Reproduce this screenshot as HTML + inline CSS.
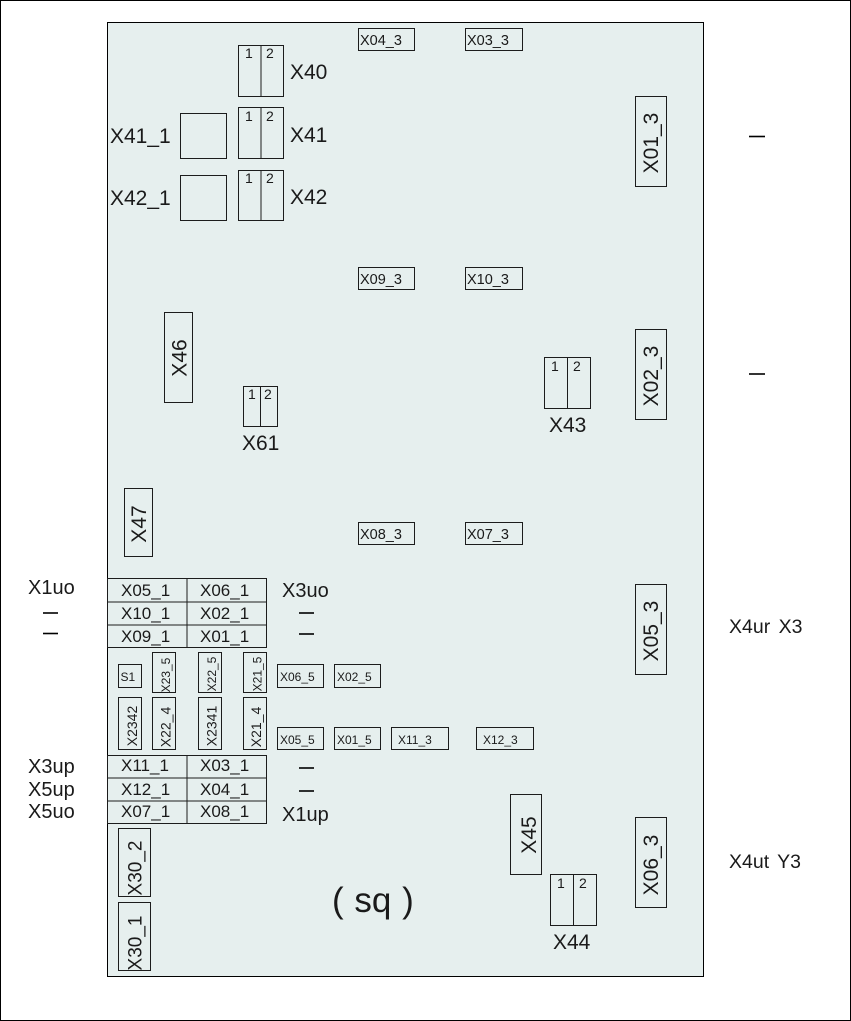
<!DOCTYPE html>
<html>
<head>
<meta charset="utf-8">
<style>
html,body{margin:0;padding:0;background:#fff}
svg{display:block}
text{font-family:"Liberation Sans",sans-serif;fill:#1a1a1a}
rect,line{stroke:#1c1c1c;stroke-width:1;fill:none}
.a{font-size:21px}
.e{font-size:20px}
.f{font-size:19px}
.b{font-size:17px}
.c{font-size:14.5px}
.d{font-size:12px}
.n{font-size:14px}
.m{text-anchor:middle}
.k{stroke:#000;stroke-width:1.6}
</style>
</head>
<body>
<svg width="851" height="1021" viewBox="0 0 851 1021" xmlns="http://www.w3.org/2000/svg">
<rect x="0.5" y="0.5" width="850" height="1020" style="stroke:#000"/>
<rect x="107.5" y="22.5" width="596" height="954" style="fill:#e6efee;stroke:#000"/>

<!-- top small connectors -->
<rect x="358.5" y="28.5" width="56" height="22"/><text class="c" x="360" y="45">X04_3</text>
<rect x="465.5" y="28.5" width="57" height="22"/><text class="c" x="467" y="45">X03_3</text>
<rect x="358.5" y="267.5" width="56" height="22"/><text class="c" x="360" y="284">X09_3</text>
<rect x="465.5" y="267.5" width="57" height="22"/><text class="c" x="467" y="284">X10_3</text>
<rect x="358.5" y="522.5" width="56" height="22"/><text class="c" x="360" y="539">X08_3</text>
<rect x="465.5" y="522.5" width="57" height="22"/><text class="c" x="467" y="539">X07_3</text>

<!-- X40-42 -->
<rect x="238.5" y="45.5" width="45" height="51"/><line x1="261" y1="45" x2="261" y2="96"/>
<text class="n" x="245" y="58">1</text><text class="n" x="266" y="58">2</text>
<text class="a" x="290" y="79">X40</text>
<rect x="238.5" y="107.5" width="45" height="51"/><line x1="261" y1="107" x2="261" y2="158"/>
<text class="n" x="245" y="121">1</text><text class="n" x="266" y="121">2</text>
<text class="a" x="290" y="142">X41</text>
<rect x="238.5" y="170.5" width="45" height="50"/><line x1="261" y1="170" x2="261" y2="220"/>
<text class="n" x="245" y="183">1</text><text class="n" x="266" y="183">2</text>
<text class="a" x="290" y="204">X42</text>
<rect x="180.5" y="113.5" width="46" height="45"/><text class="a" x="110" y="143">X41_1</text>
<rect x="180.5" y="175.5" width="46" height="45"/><text class="a" x="110" y="205">X42_1</text>

<!-- right tall connectors -->
<rect x="635.5" y="96.5" width="31" height="90"/><text class="a m" transform="translate(658,143) rotate(-90)">X01_3</text>
<rect x="635.5" y="329.5" width="31" height="90"/><text class="a m" transform="translate(658,376) rotate(-90)">X02_3</text>
<rect x="635.5" y="584.5" width="31" height="90"/><text class="a m" transform="translate(658,631) rotate(-90)">X05_3</text>
<rect x="635.5" y="817.5" width="31" height="90"/><text class="a m" transform="translate(658,865) rotate(-90)">X06_3</text>

<!-- X46 X47 X61 X43 -->
<rect x="164.5" y="312.5" width="28" height="90"/><text class="a m" transform="translate(186.5,358) rotate(-90)">X46</text>
<rect x="124.5" y="488.5" width="28" height="68"/><text class="a m" transform="translate(146,524) rotate(-90)">X47</text>
<rect x="243.5" y="386.5" width="34" height="40"/><line x1="260.5" y1="386" x2="260.5" y2="426"/>
<text class="n" x="248" y="399">1</text><text class="n" x="264" y="399">2</text>
<text class="a" x="242" y="450">X61</text>
<rect x="544.5" y="357.5" width="46" height="51"/><line x1="567.5" y1="357" x2="567.5" y2="408"/>
<text class="n" x="551" y="371">1</text><text class="n" x="573" y="371">2</text>
<text class="a" x="549" y="432">X43</text>

<!-- upper table -->
<rect x="107.5" y="578.5" width="159" height="69"/>
<line x1="107" y1="602" x2="267" y2="602"/><line x1="107" y1="625" x2="267" y2="625"/><line x1="187" y1="578" x2="187" y2="647"/>
<text class="b" x="121" y="596">X05_1</text><text class="b" x="200" y="596">X06_1</text>
<text class="b" x="121" y="619">X10_1</text><text class="b" x="200" y="619">X02_1</text>
<text class="b" x="121" y="642">X09_1</text><text class="b" x="200" y="642">X01_1</text>

<!-- lower table -->
<rect x="107.5" y="755.5" width="159" height="68"/>
<line x1="107" y1="778" x2="267" y2="778"/><line x1="107" y1="801" x2="267" y2="801"/><line x1="187" y1="755" x2="187" y2="823"/>
<text class="b" x="121" y="771">X11_1</text><text class="b" x="200" y="771">X03_1</text>
<text class="b" x="121" y="795">X12_1</text><text class="b" x="200" y="795">X04_1</text>
<text class="b" x="121" y="817">X07_1</text><text class="b" x="200" y="817">X08_1</text>

<!-- small block -->
<rect x="118.5" y="664.5" width="23" height="23"/><text class="d" x="120.5" y="681">S1</text>
<rect x="152.5" y="652.5" width="23" height="40"/><text class="d m" transform="translate(170,675) rotate(-90)">X23_5</text>
<rect x="198.5" y="652.5" width="23" height="40"/><text class="d m" transform="translate(216,674) rotate(-90)">X22_5</text>
<rect x="243.5" y="652.5" width="23" height="40"/><text class="d m" transform="translate(261.5,674) rotate(-90)">X21_5</text>
<rect x="118.5" y="697.5" width="23" height="52"/><text class="n m" transform="translate(137,726) rotate(-90)">X2342</text>
<rect x="152.5" y="697.5" width="23" height="52"/><text class="n m" transform="translate(170.5,727) rotate(-90)">X22_4</text>
<rect x="198.5" y="697.5" width="23" height="52"/><text class="n m" transform="translate(216.5,726) rotate(-90)">X2341</text>
<rect x="243.5" y="697.5" width="23" height="52"/><text class="n m" transform="translate(261,727) rotate(-90)">X21_4</text>

<rect x="277.5" y="664.5" width="46" height="23"/><text class="d" x="280" y="681">X06_5</text>
<rect x="334.5" y="664.5" width="46" height="23"/><text class="d" x="337" y="681">X02_5</text>
<rect x="277.5" y="727.5" width="46" height="22"/><text class="d" x="280" y="744">X05_5</text>
<rect x="334.5" y="727.5" width="46" height="22"/><text class="d" x="337" y="744">X01_5</text>
<rect x="391.5" y="727.5" width="57" height="22"/><text class="d" x="398" y="744">X11_3</text>
<rect x="476.5" y="727.5" width="57" height="22"/><text class="d" x="483" y="744">X12_3</text>

<!-- bottom -->
<rect x="118.5" y="828.5" width="32" height="68"/><text class="f m" transform="translate(141.5,868) rotate(-90)">X30_2</text>
<rect x="118.5" y="902.5" width="32" height="68"/><text class="f m" transform="translate(141.5,943) rotate(-90)">X30_1</text>
<rect x="510.5" y="794.5" width="31" height="80"/><text class="a m" transform="translate(536,835) rotate(-90)">X45</text>
<rect x="550.5" y="874.5" width="46" height="51"/><line x1="573.5" y1="874" x2="573.5" y2="925"/>
<text class="n" x="557" y="888">1</text><text class="n" x="579" y="888">2</text>
<text class="a" x="553" y="949">X44</text>
<text x="332" y="912" xml:space="preserve" style="font-size:35px;word-spacing:1px">( sq )</text>

<!-- side labels -->
<text class="e" x="28" y="594">X1uo</text>
<text class="e" x="28" y="773">X3up</text>
<text class="e" x="28" y="796">X5up</text>
<text class="e" x="28" y="818">X5uo</text>
<text class="e" x="282" y="597">X3uo</text>
<text class="e" x="282" y="821">X1up</text>
<text x="729" y="633" style="font-size:19.5px;word-spacing:3px">X4ur X3</text>
<text x="729" y="868" style="font-size:19.5px;word-spacing:3px">X4ut Y3</text>

<line class="k" x1="43" y1="613" x2="58" y2="613"/>
<line class="k" x1="43" y1="633.5" x2="58" y2="633.5"/>
<line class="k" x1="299" y1="613" x2="314" y2="613"/>
<line class="k" x1="299" y1="634" x2="314" y2="634"/>
<line class="k" x1="299" y1="768" x2="314" y2="768"/>
<line class="k" x1="299" y1="791" x2="314" y2="791"/>
<line class="k" x1="749" y1="136.5" x2="765" y2="136.5"/>
<line class="k" x1="749" y1="374" x2="765" y2="374"/>
</svg>
</body>
</html>
